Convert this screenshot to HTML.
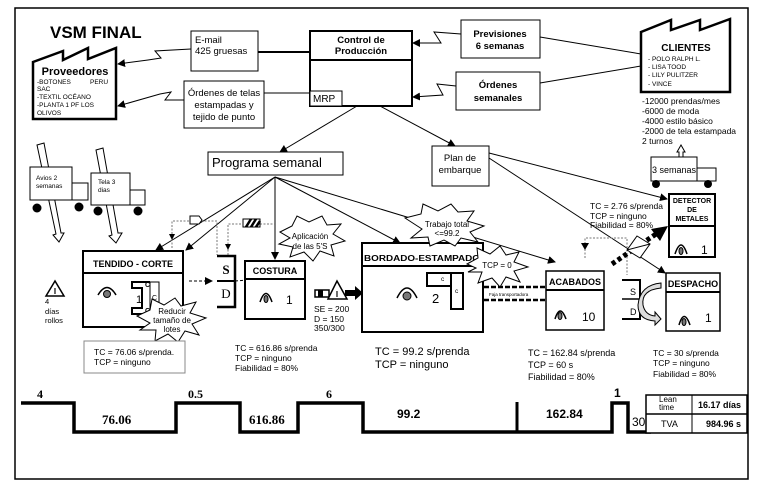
<!DOCTYPE html>
<html><head><meta charset="utf-8"><style>
html,body{margin:0;padding:0;background:#fff;}
svg{display:block;font-family:"Liberation Sans",sans-serif;}
</style></head><body>
<svg width="757" height="484" viewBox="0 0 757 484" xmlns="http://www.w3.org/2000/svg">
<defs>
<marker id="ah" markerWidth="8" markerHeight="8" refX="7" refY="4" orient="auto" markerUnits="userSpaceOnUse"><path d="M0,0 L8,4 L0,8 z" fill="#000"/></marker>
</defs>
<rect x="15" y="8" width="733" height="471" fill="none" stroke="#000" stroke-width="1.5"/>
<text x="50" y="38" font-size="17" font-weight="bold">VSM FINAL</text>

<path d="M33,62 L63,51 L63,60 L88,48 L88,59 L116,48 L116,119 L33,119 Z" fill="#fff" stroke="#000" stroke-width="2.5"/>
<text x="75" y="75" font-size="11" font-weight="bold" text-anchor="middle">Proveedores</text>
<g font-size="6.5"><text x="37" y="84">-BOTONES</text><text x="90" y="84">PERU</text><text x="37" y="91">SAC</text><text x="37" y="99">-TEXTIL OCÉANO</text><text x="37" y="107">-PLANTA 1 PF LOS</text><text x="37" y="115">OLIVOS</text></g>

<rect x="191" y="31" width="67" height="40" fill="#fff" stroke="#000"/>
<text x="195" y="43" font-size="9.5">E-mail</text><text x="195" y="54" font-size="9.5">425 gruesas</text>
<line x1="258" y1="52" x2="310" y2="52" stroke="#000" stroke-width="2"/>
<polyline points="191,49 155,51 161,58 148,60 118,64" fill="none" stroke="#000" marker-end="url(#ah)"/>
<rect x="184" y="81" width="80" height="47" fill="#fff" stroke="#000"/>
<text x="224" y="96" font-size="9.5" text-anchor="middle">Órdenes de telas</text>
<text x="224" y="108" font-size="9.5" text-anchor="middle">estampadas y</text>
<text x="224" y="120" font-size="9.5" text-anchor="middle">tejido de punto</text>
<line x1="264" y1="93" x2="310" y2="93" stroke="#000"/>
<polyline points="184,100 165,100 171,92 160,94 118,106" fill="none" stroke="#000" marker-end="url(#ah)"/>

<rect x="310" y="31" width="102" height="75" fill="#fff" stroke="#000" stroke-width="2"/>
<line x1="310" y1="60" x2="412" y2="60" stroke="#000" stroke-width="2"/>
<text x="361" y="43" font-size="9.5" font-weight="bold" text-anchor="middle">Control de</text>
<text x="361" y="54" font-size="9.5" font-weight="bold" text-anchor="middle">Producción</text>
<rect x="310" y="91" width="32" height="15" fill="#fff" stroke="#000"/>
<text x="313" y="102" font-size="10">MRP</text>

<rect x="461" y="20" width="79" height="38" fill="#fff" stroke="#000"/>
<text x="500" y="37" font-size="9.5" font-weight="bold" text-anchor="middle">Previsiones</text>
<text x="500" y="49" font-size="9.5" font-weight="bold" text-anchor="middle">6 semanas</text>
<polyline points="461,34 434,32 441,43 413,43" fill="none" stroke="#000" marker-end="url(#ah)"/>
<line x1="540" y1="37" x2="641" y2="54" stroke="#000"/>
<rect x="456" y="72" width="84" height="38" fill="#fff" stroke="#000"/>
<text x="498" y="88" font-size="9.5" font-weight="bold" text-anchor="middle">Órdenes</text>
<text x="498" y="101" font-size="9.5" font-weight="bold" text-anchor="middle">semanales</text>
<polyline points="456,86 437,84 443,95 413,97" fill="none" stroke="#000" marker-end="url(#ah)"/>
<line x1="540" y1="83" x2="641" y2="66" stroke="#000"/>

<path d="M641,32 L671,20 L671,30 L700,20 L700,30 L730,19 L730,92 L641,92 Z" fill="#fff" stroke="#000" stroke-width="2.5"/>
<text x="686" y="51" font-size="10" font-weight="bold" text-anchor="middle">CLIENTES</text>
<g font-size="6.5"><text x="648" y="61">- POLO RALPH L.</text><text x="648" y="69">- LISA TOOD</text><text x="648" y="77">- LILY PULITZER</text><text x="648" y="86">- VINCE</text></g>
<g font-size="8.5"><text x="642" y="104">-12000 prendas/mes</text><text x="642" y="114">-6000 de moda</text><text x="642" y="124">-4000 estilo básico</text><text x="642" y="134">-2000 de tela estampada</text><text x="642" y="144">2 turnos</text></g>
<path d="M679,180 L679,152 L677,152 L681,145 L685,152 L683,152 L683,180" fill="#fff" stroke="#000"/>
<rect x="651" y="157" width="46" height="24" fill="#fff" stroke="#000"/>
<rect x="697" y="168" width="19" height="13" fill="#fff" stroke="#000"/>
<circle cx="656" cy="184" r="4"/><circle cx="708" cy="184" r="4"/>
<text x="652" y="173" font-size="9">3 semanas</text>

<rect x="208" y="152" width="135" height="23" fill="#fff" stroke="#000"/>
<text x="212" y="167" font-size="13">Programa semanal</text>
<rect x="432" y="146" width="57" height="40" fill="#fff" stroke="#000"/>
<text x="460" y="161" font-size="9.5" text-anchor="middle">Plan de</text>
<text x="460" y="173" font-size="9.5" text-anchor="middle">embarque</text>
<line x1="357" y1="106" x2="280" y2="152" stroke="#000" marker-end="url(#ah)"/>
<line x1="380" y1="106" x2="455" y2="146" stroke="#000" marker-end="url(#ah)"/>
<line x1="489" y1="153" x2="667" y2="199" stroke="#000" marker-end="url(#ah)"/>
<line x1="489" y1="158" x2="665" y2="273" stroke="#000" marker-end="url(#ah)"/>

<g stroke="#000" fill="none">
<line x1="275" y1="177" x2="156" y2="250" marker-end="url(#ah)"/>
<line x1="275" y1="177" x2="186" y2="250" marker-end="url(#ah)"/>
<line x1="275" y1="177" x2="275" y2="259" marker-end="url(#ah)"/>
<line x1="275" y1="177" x2="400" y2="243" marker-end="url(#ah)"/>
<line x1="275" y1="177" x2="555" y2="262" marker-end="url(#ah)"/>
</g>
<g stroke="#777" fill="none" stroke-dasharray="2,1.5">
<polyline points="172,248 172,221 190,221"/><polyline points="201,221 217,221 217,255"/>
<polyline points="228,255 228,224 243,224"/><polyline points="260,224 275,224"/>
<polyline points="585,258 585,238 627,238 627,275"/>
</g>
<path d="M172,240 l-3,-6 h6 z M228,250 l-3,-6 h6 z"/>
<path d="M190,216 h9 l3,4 l-3,4 h-9 z" fill="#fff" stroke="#000"/>
<rect x="243" y="219" width="17" height="8" fill="#fff" stroke="#000"/>
<path d="M246,227 l5,-8 M251,227 l5,-8 M256,227 l4,-6" stroke="#000" stroke-width="2.5"/>
<path d="M585,250 l-4,-7 h8 z"/>

<polygon points="37,145 44,143 61,233 64,233 59,242 53,235 56,234" fill="#fff" stroke="#000"/>
<rect x="30" y="167" width="42" height="33" fill="#fff" stroke="#000"/>
<rect x="72" y="183" width="16" height="17" fill="#fff" stroke="#000"/>
<circle cx="37" cy="208" r="4.5"/><circle cx="79" cy="207" r="4.5"/>
<text x="36" y="180" font-size="6.5">Avios 2</text><text x="36" y="188" font-size="6.5">semanas</text>
<polygon points="96,150 103,148 118,233 122,233 116,243 109,236 112,235" fill="#fff" stroke="#000"/>
<rect x="91" y="173" width="39" height="32" fill="#fff" stroke="#000"/>
<rect x="130" y="190" width="15" height="15" fill="#fff" stroke="#000"/>
<circle cx="98" cy="211" r="4.5"/><circle cx="138" cy="211" r="4.5"/>
<text x="98" y="184" font-size="6.5">Tela 3</text><text x="98" y="192" font-size="6.5">dias</text>

<polygon points="55,281 46,296 64,296" fill="#fff" stroke="#000" stroke-width="1.5"/>
<text x="55" y="294" font-size="8" font-weight="bold" text-anchor="middle">I</text>
<g font-size="7.5"><text x="45" y="304">4</text><text x="45" y="314">días</text><text x="45" y="323">rollos</text></g>

<rect x="83" y="251" width="100" height="76" fill="#fff" stroke="#000" stroke-width="2"/>
<line x1="83" y1="273" x2="183" y2="273" stroke="#000" stroke-width="2"/>
<text x="133" y="267" font-size="9" font-weight="bold" text-anchor="middle">TENDIDO - CORTE</text>
<path d="M98,295 Q107,280 116,295" fill="none" stroke="#000" stroke-width="1.5"/><circle cx="107" cy="294" r="3.5" fill="#777" stroke="#000"/>
<path d="M150,282 h-18 v6 h10 v20 h-10 v6 h18" fill="#fff" stroke="#000" stroke-width="2"/>
<rect x="150" y="282" width="9" height="32" fill="#fff" stroke="#000"/>
<text x="145" y="287" font-size="7" font-weight="bold">C</text><text x="145" y="313" font-size="7" font-weight="bold">C</text><text x="152" y="300" font-size="7">C</text>
<text x="136" y="303" font-size="11">1</text>
<line x1="189" y1="281" x2="212" y2="281" stroke="#000" stroke-dasharray="3,2" marker-end="url(#ah)"/>
<polyline points="217,256 235,256 235,307 217,307" fill="none" stroke="#000" stroke-width="2.5"/>
<line x1="217" y1="281" x2="235" y2="281" stroke="#000" stroke-width="2"/>
<text x="226" y="274" font-size="13" font-weight="bold" font-family="Liberation Serif" text-anchor="middle">S</text>
<text x="226" y="298" font-size="13" font-family="Liberation Serif" text-anchor="middle">D</text>
<line x1="235" y1="281" x2="262" y2="279" stroke="#000" stroke-dasharray="3,2" marker-end="url(#ah)"/>
<rect x="245" y="261" width="60" height="58" fill="#fff" stroke="#000" stroke-width="2"/>
<line x1="245" y1="279" x2="305" y2="279" stroke="#000" stroke-width="2"/>
<text x="275" y="274" font-size="9" font-weight="bold" text-anchor="middle">COSTURA</text>
<path d="M260,302 Q266,285 272,302" fill="none" stroke="#000" stroke-width="1.5"/><ellipse cx="266" cy="299" rx="2" ry="3.5" fill="#777" stroke="#000"/>
<text x="286" y="304" font-size="12">1</text>
<rect x="315" y="290" width="14" height="7" fill="#fff" stroke="#000" stroke-width="1.5"/>
<rect x="318" y="290" width="5" height="7" fill="#000"/>
<path d="M345,290 h10 v-4 l8,7 l-8,7 v-4 h-10 z" fill="#000"/>
<polygon points="337,281 328,299 347,299" fill="#fff" stroke="#000" stroke-width="1.5"/>
<text x="337" y="297" font-size="8" font-weight="bold" text-anchor="middle">I</text>
<g font-size="8.5"><text x="314" y="312">SE = 200</text><text x="314" y="322">D = 150</text><text x="314" y="331">350/300</text></g>

<rect x="362" y="243" width="121" height="89" fill="#fff" stroke="#000" stroke-width="2"/>
<line x1="362" y1="266" x2="483" y2="266" stroke="#000" stroke-width="2"/>
<text x="364" y="261" font-size="8.6" font-weight="bold" textLength="116" lengthAdjust="spacingAndGlyphs">BORDADO-ESTAMPADO</text>
<path d="M397,298 Q407,278 417,298" fill="none" stroke="#000" stroke-width="1.5"/><circle cx="407" cy="296" r="4" fill="#777" stroke="#000"/>
<text x="432" y="303" font-size="13">2</text>
<rect x="427" y="273" width="25" height="13" fill="#fff" stroke="#000" stroke-width="2"/>
<rect x="451" y="273" width="12" height="36" fill="#fff" stroke="#000" stroke-width="2"/>
<text x="441" y="281" font-size="6.5">c</text><text x="455" y="293" font-size="6.5">c</text>
<line x1="484" y1="287" x2="546" y2="287" stroke="#000" stroke-width="2.5" stroke-dasharray="5,2"/>
<line x1="484" y1="300" x2="546" y2="300" stroke="#000" stroke-width="2.5" stroke-dasharray="5,2"/>
<text x="489" y="296" font-size="4.5">Faja transportadora</text>

<rect x="546" y="271" width="58" height="59" fill="#fff" stroke="#000" stroke-width="1.5"/>
<line x1="546" y1="290" x2="604" y2="290" stroke="#000" stroke-width="2"/>
<text x="575" y="285" font-size="9" font-weight="bold" text-anchor="middle">ACABADOS</text>
<path d="M555,319 Q560,303 566,319" fill="none" stroke="#000" stroke-width="1.5"/><ellipse cx="560" cy="316" rx="2" ry="3.5" fill="#777" stroke="#000"/>
<text x="582" y="321" font-size="12">10</text>
<polyline points="622,280 640,280 640,319 622,319" fill="none" stroke="#000" stroke-width="2"/>
<line x1="622" y1="299" x2="640" y2="299" stroke="#000" stroke-width="1.5"/>
<text x="630" y="295" font-size="9">S</text><text x="630" y="315" font-size="9">D</text>
<path d="M661,288 Q641,290 643,305 Q645,315 655,316 l0,-4 l6,7 l-6,6 l0,-4 Q638,320 638,305 Q640,285 661,283 z" fill="#ddd" stroke="#000"/>

<line x1="612" y1="264" x2="656" y2="234" stroke="#000" stroke-width="5" stroke-dasharray="4,3"/>
<path d="M651,229 l17,-3 l-8,15 z" fill="#000"/>
<polygon points="627,250 637,236 650,244 640,258" fill="#fff" stroke="#000"/>
<line x1="627" y1="250" x2="650" y2="244" stroke="#000"/>
<text x="590" y="209" font-size="8.5">TC = 2.76 s/prenda</text>
<text x="590" y="219" font-size="8.5">TCP = ninguno</text>
<text x="590" y="228" font-size="8.5">Fiabilidad = 80%</text>

<rect x="669" y="194" width="46" height="63" fill="#fff" stroke="#000" stroke-width="2"/>
<line x1="669" y1="226" x2="715" y2="226" stroke="#000" stroke-width="2"/>
<g font-size="7" font-weight="bold" text-anchor="middle"><text x="692" y="203">DETECTOR</text><text x="692" y="212">DE</text><text x="692" y="221">METALES</text></g>
<path d="M675,254 Q681,236 687,254" fill="none" stroke="#000" stroke-width="1.5"/><ellipse cx="681" cy="251" rx="2" ry="3.5" fill="#777" stroke="#000"/>
<text x="701" y="254" font-size="12">1</text>
<rect x="666" y="273" width="54" height="58" fill="#fff" stroke="#000" stroke-width="1.5"/>
<line x1="666" y1="292" x2="720" y2="292" stroke="#000" stroke-width="2"/>
<text x="693" y="287" font-size="9" font-weight="bold" text-anchor="middle">DESPACHO</text>
<path d="M679,325 Q684,308 690,325" fill="none" stroke="#000" stroke-width="1.5"/><ellipse cx="684" cy="322" rx="2" ry="3.5" fill="#777" stroke="#000"/>
<text x="705" y="322" font-size="12">1</text>

<g fill="#fff" stroke="#000">
<polygon points="280,232 292,226 297,216 309,222 322,216 327,225 341,224 333,234 345,241 331,245 334,256 320,251 313,261 304,252 290,257 293,247 279,244 290,238"/>
<polygon points="405,218 421,214 423,204 438,211 451,204 458,212 474,211 467,221 484,226 470,232 478,242 461,238 455,246 444,240 430,246 428,237 411,238 422,229"/>
<polygon points="467,264 478,258 477,248 490,254 500,246 506,255 519,252 514,262 528,267 514,271 520,282 506,277 500,287 492,278 478,283 482,272 468,272 476,268"/>
<polygon points="137,316 150,310 152,299 164,305 175,298 181,306 196,302 190,313 206,318 192,324 199,335 185,331 178,342 168,334 155,341 156,330 140,330 150,323"/>
</g>
<text x="310" y="239" font-size="8" text-anchor="middle">Aplicación</text><text x="310" y="249" font-size="8" text-anchor="middle">de las 5'S</text>
<text x="447" y="227" font-size="8" text-anchor="middle">Trabajo total</text><text x="447" y="236" font-size="8" text-anchor="middle">&lt;=99.2</text>
<text x="497" y="268" font-size="8" text-anchor="middle">TCP = 0</text>
<text x="172" y="314" font-size="8" text-anchor="middle">Reducir</text><text x="172" y="323" font-size="8" text-anchor="middle">tamaño de</text><text x="172" y="332" font-size="8" text-anchor="middle">lotes</text>

<rect x="84" y="341" width="101" height="32" fill="#fff" stroke="#888"/>
<text x="94" y="355" font-size="8.5">TC = 76.06 s/prenda.</text><text x="94" y="365" font-size="8.5">TCP = ninguno</text>
<g font-size="8.5"><text x="235" y="351">TC = 616.86 s/prenda</text><text x="235" y="361">TCP = ninguno</text><text x="235" y="371">Fiabilidad = 80%</text></g>
<g font-size="11"><text x="375" y="355">TC = 99.2 s/prenda</text><text x="375" y="368">TCP = ninguno</text></g>
<g font-size="9"><text x="528" y="356">TC = 162.84 s/prenda</text><text x="528" y="368">TCP = 60 s</text><text x="528" y="380">Fiabilidad = 80%</text></g>
<g font-size="8.5"><text x="653" y="356">TC = 30 s/prenda</text><text x="653" y="366">TCP = ninguno</text><text x="653" y="377">Fiabilidad = 80%</text></g>

<polyline points="21,403 74,403 74,432 176,432 176,403 240,403 240,432 298,432 298,403 363,403 363,432 612,432 612,403 628,403 628,432 651,432" fill="none" stroke="#000" stroke-width="3.5"/>
<line x1="517" y1="402" x2="517" y2="432" stroke="#000" stroke-width="3"/>
<g font-family="Liberation Serif" font-weight="bold" font-size="12">
<text x="37" y="398">4</text><text x="188" y="398">0.5</text><text x="326" y="398">6</text>
<text x="102" y="424" font-size="13">76.06</text><text x="249" y="424" font-size="13">616.86</text>
</g>
<g font-weight="bold" font-size="12" font-family="Liberation Sans">
<text x="397" y="418">99.2</text><text x="546" y="418">162.84</text><text x="614" y="397">1</text><text x="632" y="426" font-weight="normal">30</text>
</g>
<rect x="646" y="395" width="101" height="38" fill="#fff" stroke="#000" stroke-width="1.5"/>
<line x1="646" y1="414" x2="747" y2="414" stroke="#000" stroke-width="1.5"/>
<line x1="692" y1="395" x2="692" y2="433" stroke="#000"/>
<text x="659" y="402" font-size="8">Lean</text><text x="659" y="410" font-size="8">time</text>
<text x="698" y="408" font-size="9" font-weight="bold">16.17 días</text>
<text x="661" y="427" font-size="9">TVA</text>
<text x="706" y="427" font-size="9" font-weight="bold">984.96 s</text>
</svg>
</body></html>
